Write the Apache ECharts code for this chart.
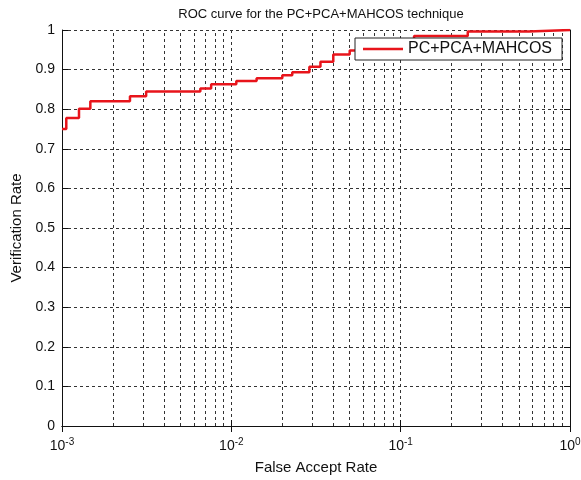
<!DOCTYPE html>
<html>
<head>
<meta charset="utf-8">
<script src="https://cdn.jsdelivr.net/npm/echarts@6/dist/echarts.min.js"></script>
<style>
html, body { margin: 0; padding: 0; background: #fff; }
#main { width: 581px; height: 480px; }
</style>
</head>
<body>
<div id="main"></div>
<script>
// ROC staircase: false accept rate where each step happens, and the new verification rate
var falseAccept = [0.001, 0.00106, 0.00126, 0.00147, 0.00252, 0.00314, 0.00656, 0.0076, 0.0107, 0.0141,
	0.020, 0.0229, 0.0289, 0.0336, 0.040, 0.050, 0.070, 0.120, 0.249, 0.57, 1];
var verification = [0.75, 0.778, 0.801, 0.82, 0.833, 0.845, 0.852, 0.863, 0.871, 0.878,
	0.886, 0.893, 0.907, 0.92, 0.938, 0.948, 0.962, 0.985, 0.996, 1, 1];
var seriesName = 'PC+PCA+MAHCOS';
// dashed minor grid positions of the log axis
var minorGrid = [0.002, 0.003, 0.004, 0.005, 0.006, 0.007, 0.008, 0.009,
	0.02, 0.03, 0.04, 0.05, 0.06, 0.07, 0.08, 0.09,
	0.2, 0.3, 0.4, 0.5, 0.6, 0.7, 0.8, 0.9];

var chartDom = document.getElementById('main');
var myChart = echarts.init(chartDom);
var option;

var gridDash = {color: '#333', width: 1, type: [3, 3]};
var font = 'Liberation Sans';

var points = falseAccept.map(function (x, i) { return [x, verification[i]]; });
var minorLines = minorGrid.map(function (x) {
	return [{coord: [x, 0]}, {coord: [x, 1]}];
});

function powLabel(v) {
	var e = Math.round(Math.log10(v));
	return '10{sup|' + e + '}';
}

option = {
	backgroundColor: '#fff',
	textStyle: {fontFamily: font},
	title: {
		text: 'ROC curve for the PC+PCA+MAHCOS technique',
		left: 316,
		textAlign: 'center',
		top: 3,
		textStyle: {fontFamily: font, fontSize: 13, fontWeight: 'normal', color: '#111'}
	},
	legend: {
		left: 355,
		top: 38,
		orient: 'vertical',
		backgroundColor: '#fff',
		borderColor: '#222',
		borderWidth: 1,
		borderRadius: 0,
		padding: [3, 10, 3, 8],
		icon: 'rect',
		itemWidth: 40,
		itemHeight: 2.5,
		itemGap: 0,
		textStyle: {fontFamily: font, fontSize: 16, color: '#111', lineHeight: 15},
		data: [seriesName]
	},
	grid: {left: 62, right: 11, top: 30, bottom: 54, outerBoundsMode: 'none'},
	xAxis: [
		{
			type: 'log',
			logBase: 10,
			min: 0.001,
			max: 1,
			name: 'False Accept Rate',
			nameLocation: 'middle',
			nameGap: 34,
			nameTextStyle: {fontFamily: font, fontSize: 15, color: '#111'},
			axisLine: {lineStyle: {color: '#111', width: 1}},
			axisTick: {inside: true, length: 6, lineStyle: {color: '#111'}},
			axisLabel: {
				color: '#111',
				fontSize: 14,
				fontFamily: font,
				margin: 11,
				formatter: powLabel,
				rich: {sup: {fontSize: 10, fontFamily: font, color: '#111', padding: [0, 0, 9, 0]}}
			},
			splitLine: {show: true, lineStyle: gridDash}
		},
		{
			type: 'log',
			logBase: 10,
			min: 0.001,
			max: 1,
			position: 'top',
			axisLine: {lineStyle: {color: '#111', width: 1}},
			axisTick: {inside: true, length: 6, lineStyle: {color: '#111'}},
			axisLabel: {show: false},
			splitLine: {show: false}
		}
	],
	yAxis: [
		{
			type: 'value',
			min: 0,
			max: 1,
			interval: 0.1,
			name: 'Verification Rate',
			nameLocation: 'middle',
			nameGap: 35,
			nameTextStyle: {fontFamily: font, fontSize: 15, color: '#111'},
			axisLine: {show: true, lineStyle: {color: '#111', width: 1}},
			axisTick: {show: true, inside: true, length: 6, lineStyle: {color: '#111'}},
			axisLabel: {color: '#111', fontSize: 14, fontFamily: font, margin: 7},
			splitLine: {show: true, lineStyle: gridDash}
		},
		{
			type: 'value',
			min: 0,
			max: 1,
			interval: 0.1,
			position: 'right',
			axisLine: {show: true, lineStyle: {color: '#111', width: 1}},
			axisTick: {show: true, inside: true, length: 6, lineStyle: {color: '#111'}},
			axisLabel: {show: false},
			splitLine: {show: false}
		}
	],
	series: [
		{
			name: seriesName,
			type: 'line',
			step: 'end',
			showSymbol: false,
			symbol: 'none',
			data: points,
			lineStyle: {color: '#e8141b', width: 2.5},
			itemStyle: {color: '#e8141b'},
			z: 3,
			markLine: {
				silent: true,
				symbol: 'none',
				label: {show: false},
				lineStyle: gridDash,
				z: 1,
				data: minorLines
			}
		}
	]
};

option && myChart.setOption(option);
</script>
</body>
</html>
